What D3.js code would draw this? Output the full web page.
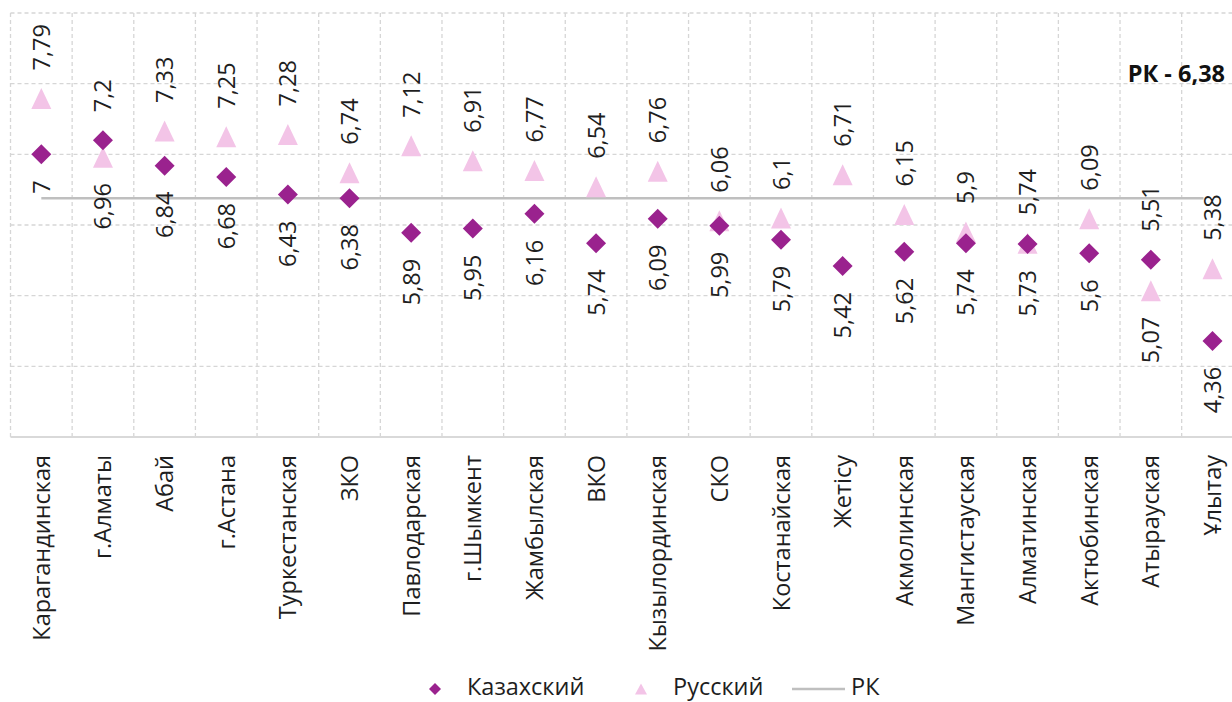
<!DOCTYPE html>
<html><head><meta charset="utf-8">
<script src="https://cdn.jsdelivr.net/npm/d3@7"></script>
<style>html,body{margin:0;padding:0;background:#fff;overflow:hidden}</style>
</head><body><svg id="c" width="1232" height="702"></svg>
<script>
const categories = ["Карагандинская","г.Алматы","Абай","г.Астана","Туркестанская","ЗКО","Павлодарская","г.Шымкент","Жамбылская","ВКО","Кызылординская","СКО","Костанайская","Жетісу","Акмолинская","Мангистауская","Алматинская","Актюбинская","Атырауская","Ұлытау"];
const kazakh = [7,7.2,6.84,6.68,6.43,6.38,5.89,5.95,6.16,5.74,6.09,5.99,5.79,5.42,5.62,5.74,5.73,5.6,5.51,4.36];
const russian = [7.79,6.96,7.33,7.25,7.28,6.74,7.12,6.91,6.77,6.54,6.76,6.06,6.1,6.71,6.15,5.9,5.74,6.09,5.07,5.38];
const rkValue = 6.38;
const yTicks = [3,4,5,6,7,8,9];
const seriesNames = ["Казахский","Русский","РК"];

const FONT = "'Open Sans', 'Noto Sans', sans-serif";
const cKaz = "#9a228e", cRus = "#f3c4e7", cRK = "#bfbfbf", cGrid = "#d6d6d6";
const svg = d3.select("#c").style("font-family", FONT);

const left = 10.5, bw = 61.64;
const x = d3.scaleBand().domain(categories).range([left, left + bw*categories.length]).padding(0);
const y = d3.scaleLinear().domain([3,9]).range([437,13]);
const cx = c => x(c) + x.bandwidth()/2;
const fmt = v => String(v).replace(".", ",");
const FS = 23.5, TX = 8.5;

// grid
const g = svg.append("g");
g.selectAll("line.h").data(yTicks.filter(t => t > 3)).join("line")
  .attr("x1", left).attr("x2", left + bw*categories.length)
  .attr("y1", d => y(d)).attr("y2", d => y(d))
  .attr("stroke", cGrid).attr("stroke-width", 1.3).attr("stroke-dasharray", "4,3");
g.selectAll("line.v").data(categories).join("line")
  .attr("x1", d => x(d)).attr("x2", d => x(d))
  .attr("y1", y(9)).attr("y2", y(3))
  .attr("stroke", cGrid).attr("stroke-width", 1.3).attr("stroke-dasharray", "4,3");
g.append("line").attr("x1", left).attr("x2", left + bw*categories.length)
  .attr("y1", y(3)).attr("y2", y(3)).attr("stroke", "#d9d9d9").attr("stroke-width", 2);

// RK line
svg.append("line").attr("x1", cx(categories[0])).attr("x2", cx(categories[categories.length-1]) - 9)
  .attr("y1", y(rkValue)).attr("y2", y(rkValue)).attr("stroke", cRK).attr("stroke-width", 2.5);

// markers
const diamond = d3.symbol().type(d3.symbolSquare).size(200);
const tri = (w, h) => `M0,${-h/2}L${w/2},${h/2}L${-w/2},${h/2}Z`;

svg.append("g").selectAll("path").data(categories).join("path")
  .attr("d", tri(20, 21))
  .attr("transform", (d,i) => `translate(${cx(d)},${y(russian[i])})`)
  .attr("fill", cRus);
svg.append("g").selectAll("path").data(categories).join("path")
  .attr("d", diamond)
  .attr("transform", (d,i) => `translate(${cx(d)},${y(kazakh[i])}) rotate(45)`)
  .attr("fill", cKaz);

// data labels
function addLabels(vals, other) {
  svg.append("g").selectAll("text").data(categories).join("text")
    .attr("transform", (d,i) => {
      const above = vals[i] >= other[i];
      const yy = above ? y(vals[i]) - 28 : y(vals[i]) + 26;
      return `translate(${cx(d) + TX},${yy}) rotate(-90)`;
    })
    .attr("text-anchor", (d,i) => vals[i] >= other[i] ? "start" : "end")
    .attr("font-size", FS).attr("fill", "#1e1e1e")
    .text((d,i) => fmt(vals[i]));
}
addLabels(kazakh, russian);
addLabels(russian, kazakh);

// x labels
svg.append("g").selectAll("text").data(categories).join("text")
  .attr("transform", d => `translate(${cx(d) + TX},455) rotate(-90)`)
  .attr("text-anchor", "end").attr("font-size", FS).attr("fill", "#1e1e1e")
  .text(d => d);

// RK annotation
svg.append("text").attr("x", 1225).attr("y", 82).attr("text-anchor", "end")
  .attr("font-size", FS).attr("font-weight", "bold").attr("fill", "#111")
  .text("РК - " + fmt(rkValue));

// legend
const ly = 689, lty = 694.5;
const lg = svg.append("g");
lg.append("path").attr("d", d3.symbol().type(d3.symbolSquare).size(72))
  .attr("transform", `translate(435,${ly}) rotate(45)`).attr("fill", cKaz);
lg.append("text").attr("x", 467).attr("y", lty).attr("font-size", FS).attr("fill", "#1e1e1e").text(seriesNames[0]);
lg.append("path").attr("d", tri(12, 11)).attr("transform", `translate(641,${ly})`).attr("fill", cRus);
lg.append("text").attr("x", 673).attr("y", lty).attr("font-size", FS).attr("fill", "#1e1e1e").text(seriesNames[1]);
lg.append("line").attr("x1", 792).attr("x2", 845).attr("y1", ly).attr("y2", ly).attr("stroke", cRK).attr("stroke-width", 2.5);
lg.append("text").attr("x", 851).attr("y", lty).attr("font-size", FS).attr("fill", "#1e1e1e").text(seriesNames[2]);
</script></body></html>
